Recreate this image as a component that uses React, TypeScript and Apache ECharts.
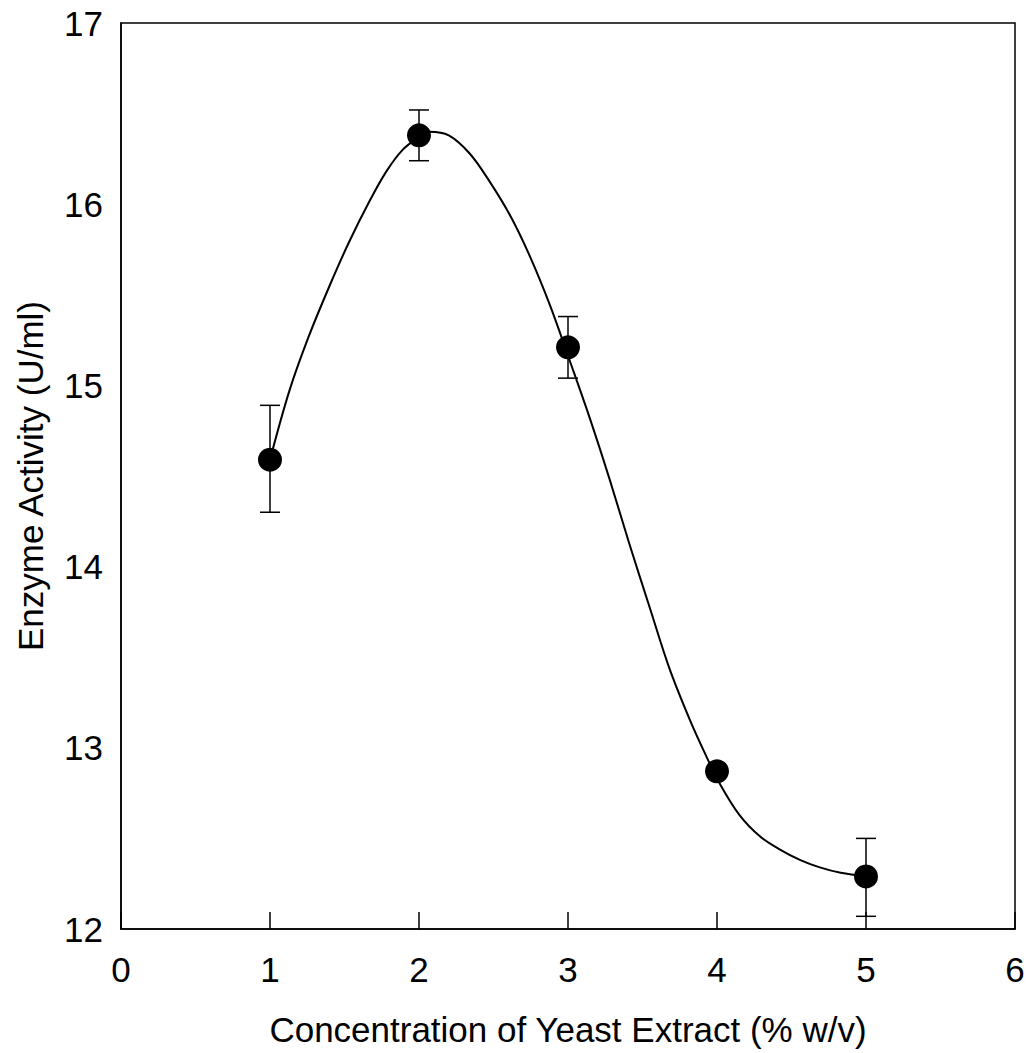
import React, { useEffect, useRef } from "react";
import * as echarts from "echarts";

const xTicks = [0, 1, 2, 3, 4, 5, 6];
const concentration = [1, 2, 3, 4, 5];
const activity = [14.59, 16.38, 15.21, 12.87, 12.29];
const errLow = [14.3, 16.24, 15.04, 12.87, 12.07];
const errHigh = [14.89, 16.52, 15.38, 12.87, 12.5];

// fitted curve
const fitX = [1.0, 1.13, 1.26, 1.4, 1.53, 1.67, 1.78, 1.89, 2.0, 2.07, 2.2, 2.34, 2.47, 2.61, 2.74, 2.88, 3.01, 3.15, 3.28, 3.41, 3.55, 3.68, 3.82, 3.93, 4.02, 4.15, 4.29, 4.42, 4.56, 4.69, 4.83, 5.0];
const fitY = [14.59, 14.97, 15.27, 15.55, 15.79, 16.02, 16.18, 16.3, 16.37, 16.4, 16.38, 16.28, 16.13, 15.94, 15.72, 15.44, 15.14, 14.81, 14.48, 14.13, 13.77, 13.44, 13.15, 12.95, 12.8, 12.63, 12.51, 12.44, 12.38, 12.34, 12.31, 12.29];

const FONT = "'Liberation Sans', Arial, sans-serif";

export default function App() {
  const ref = useRef<HTMLDivElement>(null);
  useEffect(() => {
    document.body.style.margin = "0";
    const chart = echarts.init(ref.current!, null, { renderer: "svg" });
    const errData = concentration.map((x, i) => [x, errLow[i], errHigh[i]]);
    chart.setOption({
      animation: false,
      backgroundColor: "#fff",
      grid: {
        left: 121,
        top: 23,
        right: 16,
        bottom: 124,
        show: true,
        borderColor: "#000",
        borderWidth: 1.5,
      },
      xAxis: {
        type: "value",
        min: xTicks[0],
        max: xTicks[xTicks.length - 1],
        interval: 1,
        name: "Concentration of Yeast Extract (% w/v)",
        nameLocation: "middle",
        nameGap: 83,
        nameTextStyle: { fontFamily: FONT, fontSize: 35, color: "#000" },
        axisLine: { lineStyle: { color: "#000", width: 1.5 } },
        axisTick: { show: true, inside: true, length: 17, lineStyle: { color: "#000", width: 1.5 } },
        axisLabel: { fontFamily: FONT, fontSize: 35, color: "#000", margin: 23 },
        splitLine: { show: false },
      },
      yAxis: {
        type: "value",
        min: 12,
        max: 17,
        interval: 1,
        name: "Enzyme Activity (U/ml)",
        nameLocation: "middle",
        nameGap: 73,
        nameTextStyle: { fontFamily: FONT, fontSize: 35, color: "#000" },
        axisLine: { show: true, lineStyle: { color: "#000", width: 1.5 } },
        axisTick: { show: false },
        axisLabel: { fontFamily: FONT, fontSize: 35, color: "#000", margin: 18 },
        splitLine: { show: false },
      },
      series: [
        {
          type: "line",
          data: fitX.map((x, i) => [x, fitY[i]]),
          smooth: 0.35,
          showSymbol: false,
          lineStyle: { color: "#000", width: 2 },
          z: 2,
        },
        {
          type: "custom",
          data: errData,
          z: 3,
          renderItem: (params: any, api: any) => {
            const x = api.value(0);
            const lo = api.coord([x, api.value(1)]);
            const hi = api.coord([x, api.value(2)]);
            const hw = 10;
            const style = { stroke: "#000", lineWidth: 1.5 };
            return {
              type: "group",
              children: [
                { type: "line", shape: { x1: lo[0], y1: lo[1], x2: hi[0], y2: hi[1] }, style },
                { type: "line", shape: { x1: lo[0] - hw, y1: lo[1], x2: lo[0] + hw, y2: lo[1] }, style },
                { type: "line", shape: { x1: hi[0] - hw, y1: hi[1], x2: hi[0] + hw, y2: hi[1] }, style },
              ],
            };
          },
        },
        {
          type: "scatter",
          data: concentration.map((x, i) => [x, activity[i]]),
          symbol: "circle",
          symbolSize: 24,
          itemStyle: { color: "#000", opacity: 1 },
          z: 4,
        },
      ],
    });
    return () => chart.dispose();
  }, []);
  return <div ref={ref} style={{ width: 1031, height: 1053 }} />;
}
